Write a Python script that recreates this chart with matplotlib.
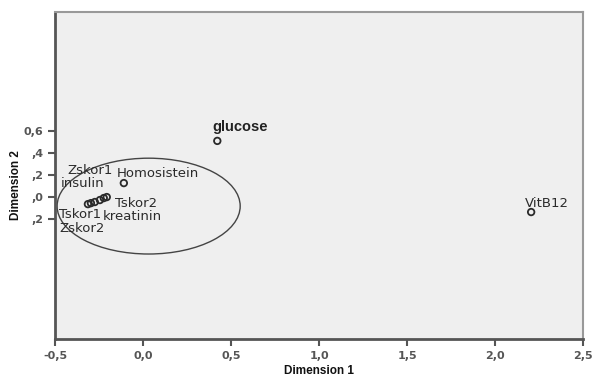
import matplotlib
matplotlib.use('Agg')

import matplotlib.pyplot as plt
from matplotlib.patches import Ellipse

# Joint plot of category points
labels = ['Tskor1', 'Zskor2', 'insulin', 'Zskor1', 'kreatinin', 'Tskor2',
          'Homosistein', 'glucose', 'VitB12']
dim1 = [-0.313, -0.296, -0.274, -0.245, -0.223, -0.206, -0.109, 0.422, 2.205]
dim2 = [-0.064, -0.055, -0.045, -0.027, -0.009, 0.0, 0.127, 0.51, -0.136]
# label offsets from the point, in pixels (x right, y up)
label_dx = [-8, -9, -12, -10, 29, 29, 34, 23, 16]
label_dy = [-10, -25, 19, 30, -18, -6, 10, 14, 9]

x_ticks = [-0.5, 0.0, 0.5, 1.0, 1.5, 2.0, 2.5]
x_ticklabels = ['-0,5', '0,0', '0,5', '1,0', '1,5', '2,0', '2,5']
y_ticks = [-0.2, 0.0, 0.2, 0.4, 0.6]
y_ticklabels = [',2', ',0', ',2', ',4', '0,6']

# cluster ellipse drawn on the plot
ell_center = (0.032, -0.082)
ell_width = 1.04
ell_height = 0.87

fig = plt.figure(figsize=(5.96, 3.76), dpi=100, facecolor='white')
ax = fig.add_axes([0.0923, 0.098, 0.886, 0.870])
ax.set_facecolor('#efefef')

ax.scatter(dim1, dim2, s=22, facecolors='none', edgecolors='#2a2a2a',
           linewidths=1.3, zorder=3)

for name, x, y, dx, dy in zip(labels, dim1, dim2, label_dx, label_dy):
    if name == 'glucose':
        ax.annotate(name, (x, y), xytext=(dx, dy), textcoords='offset pixels',
                    ha='center', va='center', fontsize=10.5, fontweight='bold',
                    family='Liberation Sans', color='#222222')
    else:
        ax.annotate(name, (x, y), xytext=(dx, dy), textcoords='offset pixels',
                    ha='center', va='center', fontsize=9.5,
                    family='DejaVu Sans', color='#2a2a2a')

ax.add_patch(Ellipse(ell_center, ell_width, ell_height, fill=False,
                     edgecolor='#444444', linewidth=1.0, zorder=2))

ax.set_xlim(-0.5, 2.5)
ax.set_ylim(-1.29, 1.68)
ax.set_xticks(x_ticks)
ax.set_xticklabels(x_ticklabels)
ax.set_yticks(y_ticks)
ax.set_yticklabels(y_ticklabels)
ax.tick_params(axis='both', direction='out', length=5, width=1.5,
               color='#555555', labelcolor='#555555', labelsize=8)
for lab in ax.get_xticklabels() + ax.get_yticklabels():
    lab.set_fontweight('bold')

for side in ['left', 'bottom']:
    ax.spines[side].set_color('#555555')
    ax.spines[side].set_linewidth(2)
for side in ['top', 'right']:
    ax.spines[side].set_color('#999999')
    ax.spines[side].set_linewidth(1.5)

ax.set_xlabel('Dimension 1', fontsize=8.5, fontweight='bold',
              family='Liberation Sans', color='#111111')
ax.set_ylabel('Dimension 2', fontsize=8.5, fontweight='bold',
              family='Liberation Sans', color='#111111')
ax.xaxis.set_label_coords(0.5, -0.078)
ax.yaxis.set_label_coords(-0.062, 0.47)

fig.savefig('out.png', dpi=100, facecolor='white')
plt.close(fig)
